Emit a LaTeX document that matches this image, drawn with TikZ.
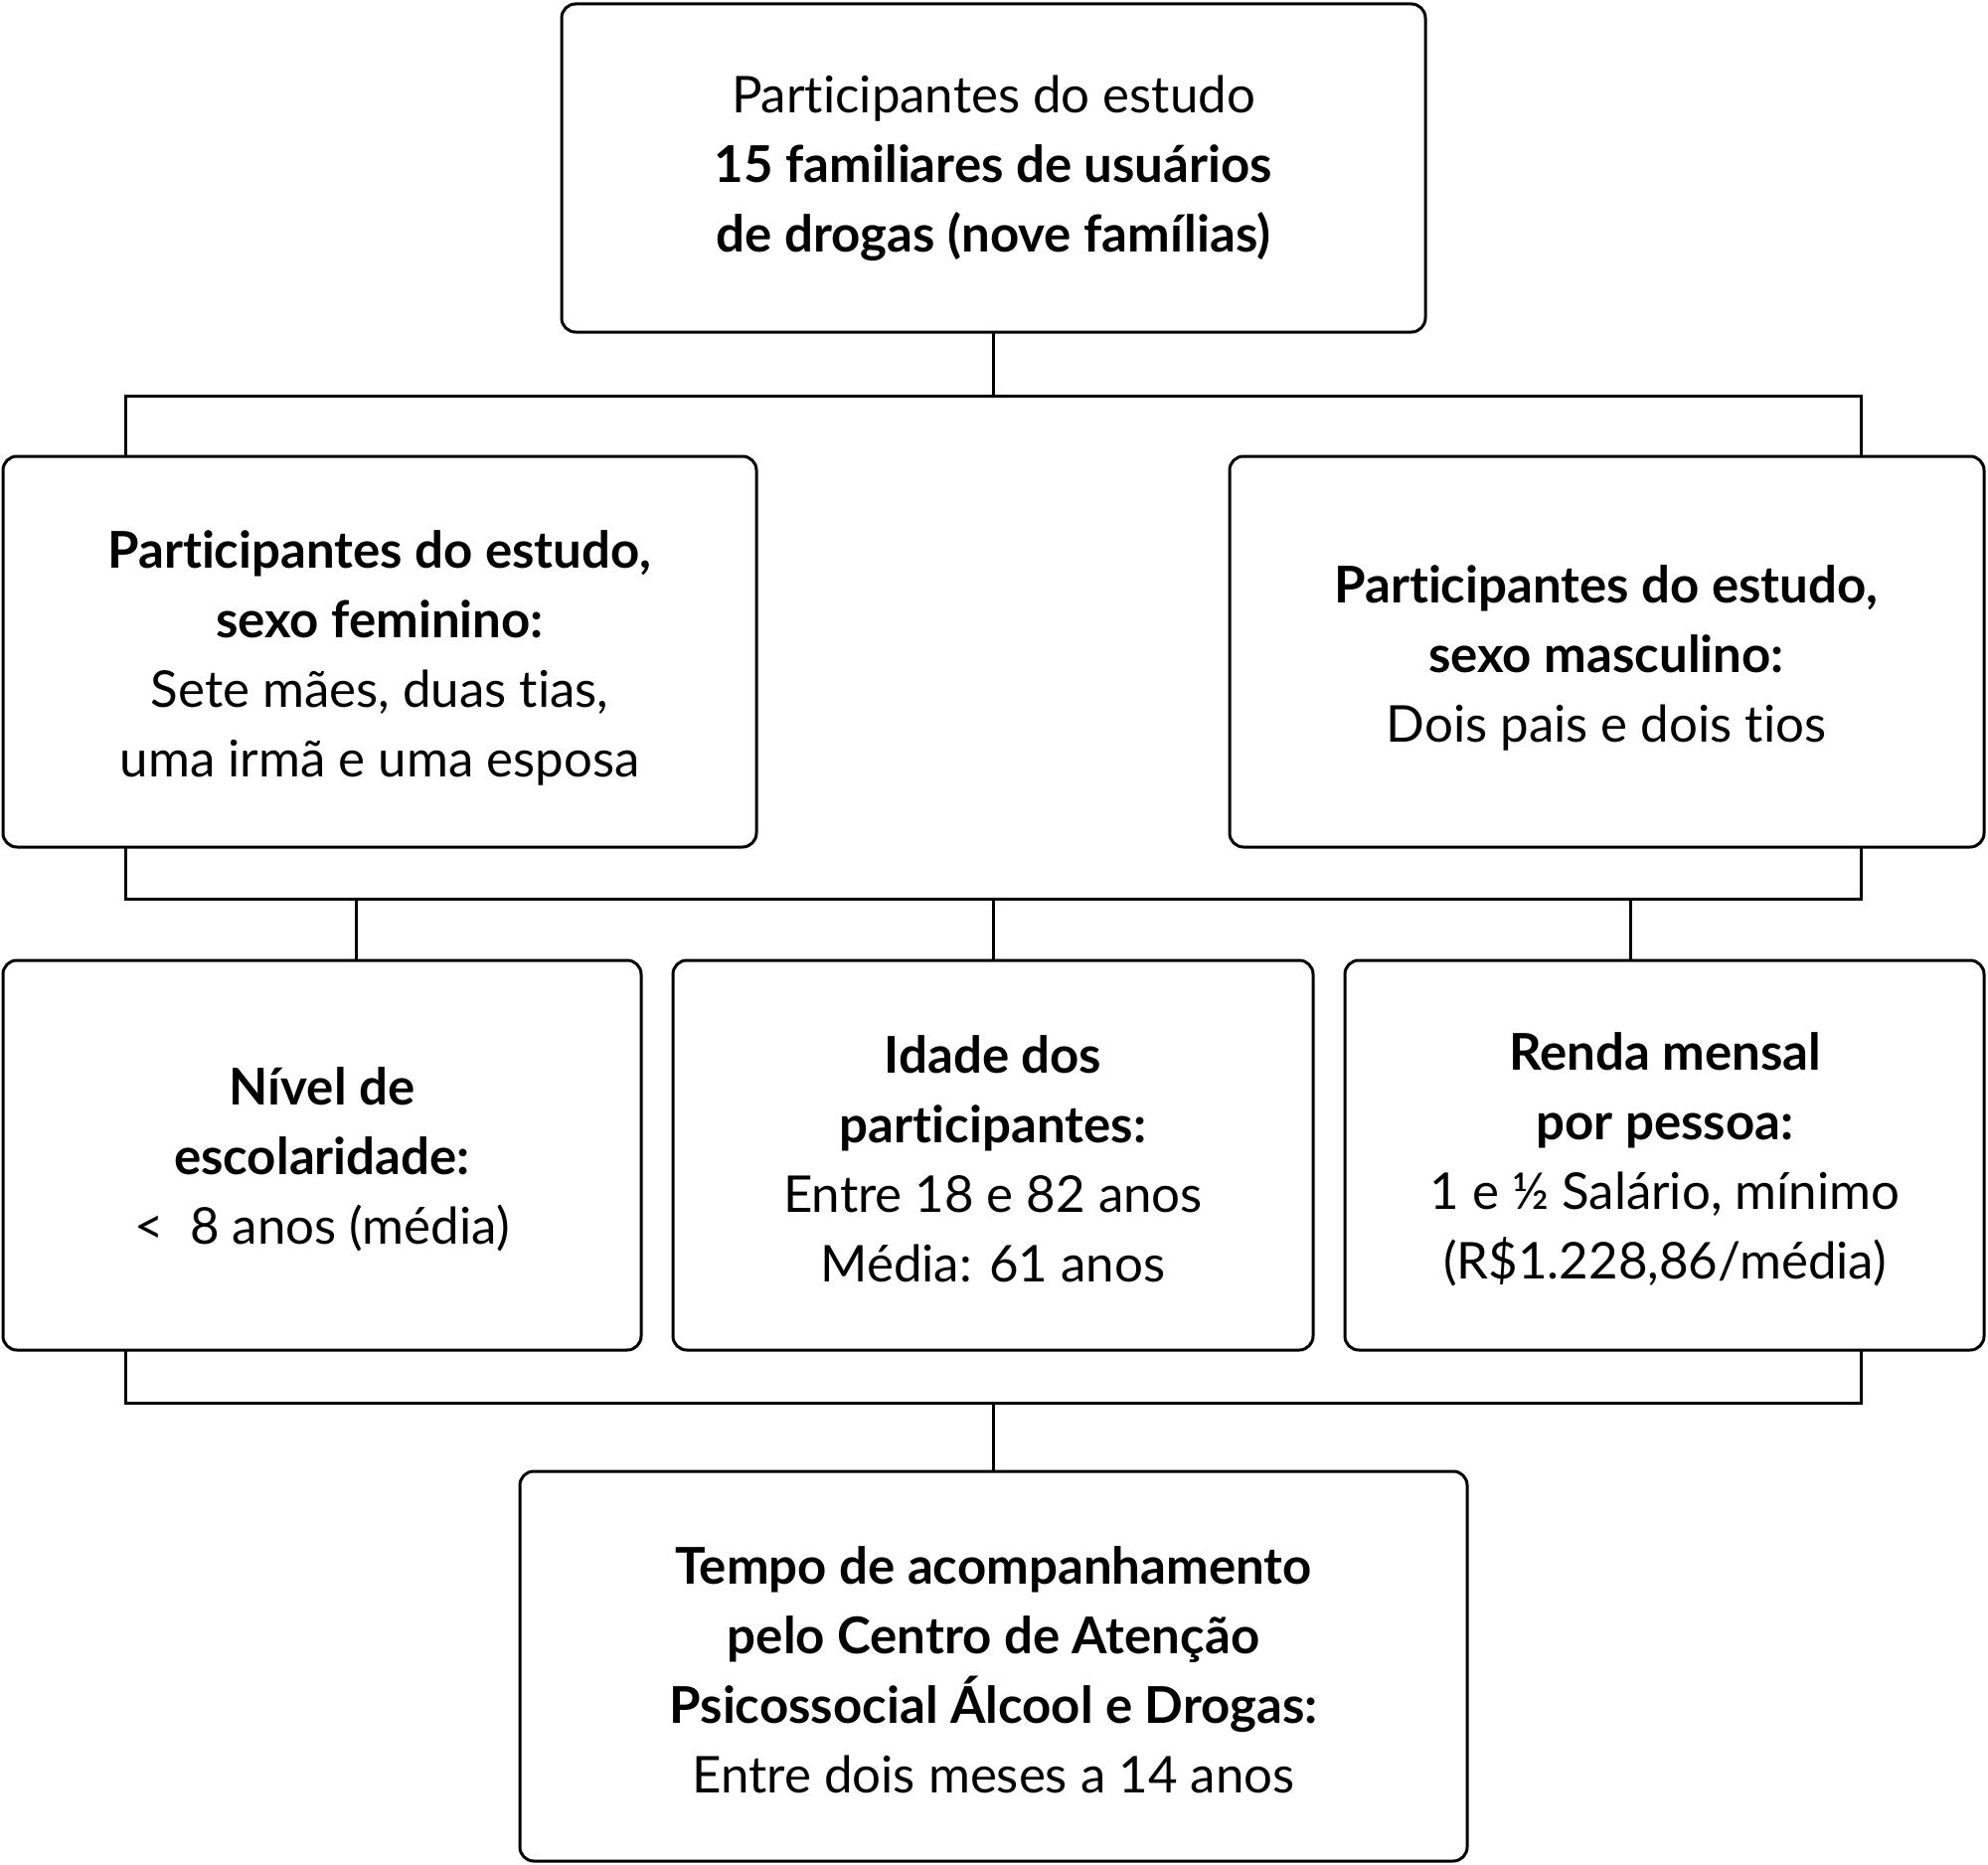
\documentclass[tikz,border=0pt]{standalone}
\usepackage{fontspec}
\setmainfont{Lato}[Ligatures={NoCommon,TeX}]
\begin{document}
\begin{tikzpicture}[x=1pt,y=-1pt,
  bx/.style={draw,line width=3pt,rounded corners=14pt},
  ln/.style={line width=3pt},
  txt/.style={align=center,font=\fontsize{51}{70}\selectfont}]
\useasboundingbox (0,0) rectangle (2000,1876);
\draw[bx] (565,4) rectangle (1434,334);
\node[txt] (top) at (999.5,169) {Participantes do estudo\\\textbf{15 familiares de usuários}\\\textbf{de drogas (nove famílias)}};
\draw[bx] (3,459) rectangle (761,852);
\node[txt] (fem) at (382,662) {\textbf{Participantes do estudo,}\\\textbf{sexo feminino:}\\Sete mães, duas tias,\\uma irmã e uma esposa};
\draw[bx] (1237,459) rectangle (1996,852);
\node[txt] (mas) at (1616,662) {\textbf{Participantes do estudo,}\\\textbf{sexo masculino:}\\Dois pais e dois tios};
\draw[bx] (3,966) rectangle (645,1358);
\node[txt] (esc) at (324,1166) {\textbf{Nível de}\\\textbf{escolaridade:}\\<\ \ 8 anos (média)};
\draw[bx] (677,966) rectangle (1321,1358);
\node[txt] (ida) at (999,1166) {\textbf{Idade dos}\\\textbf{participantes:}\\Entre 18 e 82 anos\\Média: 61 anos};
\draw[bx] (1353,966) rectangle (1996,1358);
\node[txt] (ren) at (1675,1166) {\textbf{Renda mensal}\\\textbf{por pessoa:}\\1 e ½ Salário, mínimo\\(R\$1.228,86/média)};
\draw[bx] (523,1480) rectangle (1476,1872);
\node[txt] (tem) at (999.5,1680) {\textbf{Tempo de acompanhamento}\\\textbf{pelo Centro de Atenção}\\\textbf{Psicossocial Álcool e Drogas:}\\Entre dois meses a 14 anos};
\coordinate (a1) at (999,334);
\draw[ln] (a1) -- (999,398);
\draw[ln] (126,459) -- (126,398) -- (1872,398) -- (1872,459);
\draw[ln] (126,852) -- (126,904) -- (1872,904) -- (1872,852);
\draw[ln] (358,904) -- (358,966);
\draw[ln] (999,904) -- (999,966);
\draw[ln] (1640,904) -- (1640,966);
\draw[ln] (126,1358) -- (126,1411) -- (1872,1411) -- (1872,1358);
\draw[ln] (999,1411) -- (999,1480);
\end{tikzpicture}
\end{document}
